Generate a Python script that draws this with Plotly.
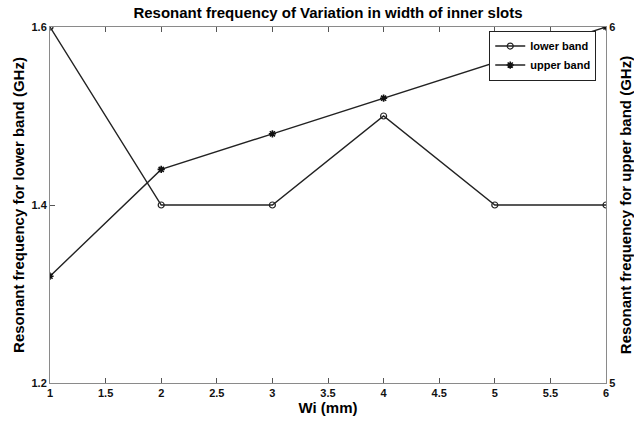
import plotly.graph_objects as go

wi = [1, 2, 3, 4, 5, 6]
lower_band = [1.6, 1.4, 1.4, 1.5, 1.4, 1.4]
upper_band = [5.3, 5.6, 5.7, 5.8, 5.9, 6.0]
x_ticks = [1, 1.5, 2, 2.5, 3, 3.5, 4, 4.5, 5, 5.5, 6]
x_tick_text = ["1", "1.5", "2", "2.5", "3", "3.5", "4", "4.5", "5", "5.5", "6"]
y1_ticks = [1.2, 1.4, 1.6]
y2_ticks = [5, 6]

FONT = "Liberation Sans, Arial, sans-serif"

fig = go.Figure()
fig.add_trace(go.Scatter(
    x=wi, y=lower_band, name="lower band", mode="lines+markers",
    line=dict(color="#222222", width=1.4),
    marker=dict(symbol="circle-open", size=6, color="#222222", line=dict(width=1.2)),
    yaxis="y"))
fig.add_trace(go.Scatter(
    x=wi, y=upper_band, name="upper band", mode="lines+markers",
    line=dict(color="#222222", width=1.4),
    marker=dict(symbol="asterisk-open", size=6, color="#111111", line=dict(width=1.6, color="#111111")),
    yaxis="y2"))

fig.update_layout(
    width=634, height=421,
    margin=dict(l=50, r=28, t=27, b=38),
    paper_bgcolor="white", plot_bgcolor="white",
    font=dict(family=FONT, size=11, color="black"),
    title=dict(text="Resonant frequency of Variation in width of inner slots",
               x=0.5, xref="paper", y=1 - 13 / 421, yref="container",
               xanchor="center", yanchor="middle",
               font=dict(size=15, weight="bold", color="black")),
    xaxis=dict(range=[1, 6], tickvals=x_ticks, ticktext=x_tick_text,
               showline=True, linecolor="#8a8a8a", linewidth=1, mirror="ticks",
               ticks="inside", ticklen=5, tickcolor="#555555",
               tickfont=dict(size=11, weight="bold", color="#111111"),
               showgrid=False, zeroline=False,
               title=dict(text="Wi (mm)", standoff=3,
                          font=dict(size=15, weight="bold")),
               automargin=False),
    yaxis=dict(range=[1.2, 1.6], tickvals=y1_ticks, ticktext=["1.2", "1.4", "1.6"],
               showline=True, linecolor="#8a8a8a", linewidth=1,
               ticks="inside", ticklen=5, tickcolor="#555555",
               tickfont=dict(size=11, weight="bold", color="#111111"),
               showgrid=False, zeroline=False,
               title=dict(text="Resonant frequency for lower band (GHz)", standoff=3,
                          font=dict(size=15, weight="bold")),
               automargin=False),
    yaxis2=dict(range=[5, 6], tickvals=y2_ticks, ticktext=["5", "6"],
                overlaying="y", side="right",
                showline=True, linecolor="#8a8a8a", linewidth=1,
                ticks="inside", ticklen=5, tickcolor="#555555",
                tickfont=dict(size=11, weight="bold", color="#111111"),
                showgrid=False, zeroline=False,
                title=dict(text="Resonant frequency for upper band (GHz)", standoff=12,
                           font=dict(size=15, weight="bold")),
                automargin=False),
    legend=dict(x=0.79, y=0.99, xanchor="left", yanchor="top",
                bgcolor="white", bordercolor="#222222", borderwidth=1,
                font=dict(size=11, weight="bold"), itemwidth=30, tracegroupgap=0),
    showlegend=True,
)

fig.write_html("out.html")
